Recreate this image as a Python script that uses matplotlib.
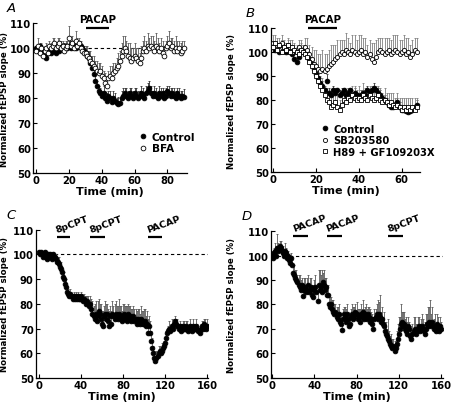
import numpy as np
import matplotlib
matplotlib.use("Agg")
import matplotlib.pyplot as plt

plt.rcParams['font.family'] = ['DejaVu Sans']
plt.rcParams['font.weight'] = 'bold'

# ── Panel A: PACAP with / without BFA ────────────────────────────────────────
t_a = np.arange(0, 91)
a_ctrl = [100, 99, 101, 98, 99, 97, 96, 98, 99, 98,
          100, 99, 98, 100, 99, 100, 101, 100, 101, 100,
          101, 100, 102, 101, 100, 102, 101, 101, 100, 99,
          98, 97, 96, 94, 92, 89.5, 87, 85, 83, 82,
          81, 82, 80, 79, 81, 80, 78.5, 80, 79, 78,
          77.5, 78, 80, 81, 82, 81, 80, 82, 81, 80,
          82, 81, 80, 81, 82, 81, 80, 82, 83, 84,
          82, 81, 82, 81, 80, 82, 81, 82, 80, 81,
          83, 82, 81, 82, 81, 80, 82, 81, 80, 81,
          80.5]
a_ctrl_err = [1, 2, 1, 2, 1, 2, 2, 1, 2, 1,
              1, 2, 1, 1, 2, 1, 1, 2, 1, 1,
              2, 1, 1, 2, 1, 1, 2, 1, 1, 2,
              2, 2, 3, 2, 2, 3, 2, 2, 2, 2,
              2, 3, 2, 3, 2, 3, 2, 3, 3, 2,
              3, 2, 3, 3, 2, 3, 3, 2, 3, 3,
              2, 3, 3, 2, 3, 3, 2, 3, 3, 3,
              3, 2, 3, 3, 2, 3, 3, 2, 3, 3,
              2, 3, 3, 2, 3, 3, 2, 3, 3, 2,
              3]
a_bfa = [99, 101, 98, 100, 97, 99, 100, 98, 101, 100,
         101, 102, 100, 101, 102, 100, 101, 99, 100, 101,
         104, 101, 102, 100, 103, 101, 102, 100, 99, 98,
         98, 97, 96, 95, 94, 93, 92, 91, 90, 91,
         89, 88, 86, 85, 88, 89, 88, 90, 91, 92,
         93, 95, 97, 99, 100, 99, 97, 96, 95, 96,
         97, 96, 95, 94, 96, 99, 100, 99, 101, 100,
         101, 100, 99, 101, 100, 99, 100, 98, 97, 100,
         101, 102, 100, 101, 99, 100, 99, 100, 98, 99,
         100]
a_bfa_err = [2, 3, 2, 2, 3, 2, 2, 3, 2, 2,
             3, 2, 2, 3, 2, 3, 2, 2, 3, 2,
             5, 2, 3, 2, 4, 3, 2, 3, 2, 3,
             3, 4, 3, 4, 3, 4, 3, 4, 4, 3,
             4, 3, 4, 4, 3, 4, 5, 4, 3, 4,
             5, 4, 5, 6, 5, 4, 5, 6, 5, 4,
             5, 4, 5, 4, 5, 4, 5, 4, 5, 4,
             4, 5, 4, 5, 4, 3, 4, 5, 4, 3,
             4, 5, 4, 3, 4, 5, 4, 3, 4, 4,
             3]

# ── Panel B: Control / SB203580 / H89 + GF109203X ────────────────────────────
t_b = np.arange(0, 68)
b_ctrl = [103, 101, 102, 100, 103, 101, 100, 102, 100, 99,
          97, 96, 98, 100, 101, 100, 99, 97, 95, 93,
          91, 89, 87, 86, 84, 88, 83, 82, 84, 83,
          84, 82, 83, 84, 82, 83, 84, 82, 83, 82,
          81, 82, 83, 82, 84, 83, 84, 85, 84, 83,
          82, 81, 80, 79, 78, 77, 77, 78, 79, 77,
          76, 76, 75.5, 75, 75.5, 76, 77, 78]
b_ctrl_err = [1, 2, 1, 1, 2, 1, 1, 2, 1, 1,
              1, 2, 1, 1, 2, 1, 1, 2, 1, 2,
              2, 1, 2, 2, 1, 3, 2, 1, 2, 2,
              1, 2, 2, 1, 2, 2, 1, 2, 2, 1,
              2, 2, 1, 2, 2, 1, 2, 2, 1, 2,
              2, 1, 2, 2, 1, 2, 2, 1, 2, 2,
              1, 2, 2, 1, 2, 2, 1, 2]
b_sb = [104, 102, 103, 101, 104, 102, 101, 103, 102, 100,
        101, 100, 102, 101, 100, 102, 101, 99, 97, 95,
        94, 93, 92, 93, 92, 93, 94, 95, 96, 97,
        98, 99, 100, 99, 101, 100, 99, 101, 100, 99,
        100, 101, 99, 100, 98, 99, 97, 96, 98, 100,
        101, 100, 99, 100, 101, 99, 100, 101, 100, 99,
        100, 101, 99, 100, 98, 99, 101, 100]
b_sb_err = [3, 2, 3, 2, 3, 2, 3, 2, 3, 2,
            3, 2, 3, 4, 3, 4, 5, 4, 5, 6,
            7, 6, 7, 8, 7, 6, 7, 8, 7, 6,
            7, 6, 5, 6, 7, 6, 5, 6, 7, 6,
            7, 6, 7, 6, 5, 6, 7, 8, 7, 6,
            5, 6, 7, 6, 5, 6, 7, 6, 7, 6,
            5, 6, 7, 6, 5, 6, 5, 6]
b_h89 = [102, 104, 101, 103, 100, 102, 101, 103, 100, 102,
         101, 100, 99, 101, 100, 99, 98, 96, 94, 92,
         90, 88, 86, 84, 82, 80, 79, 77, 78, 79,
         77, 76, 78, 80, 79, 81, 80, 82, 81, 80,
         81, 80, 82, 81, 80, 82, 81, 80, 81, 82,
         80, 79, 80, 79, 78, 79, 78, 77, 78, 77,
         76, 77, 76, 77, 76, 77, 76, 77]
b_h89_err = [2, 3, 2, 3, 2, 3, 2, 3, 2, 3,
             2, 3, 2, 3, 2, 3, 3, 4, 3, 4,
             4, 3, 4, 5, 4, 5, 4, 5, 4, 5,
             5, 4, 5, 4, 5, 4, 5, 4, 5, 4,
             5, 4, 5, 4, 5, 4, 5, 4, 5, 4,
             5, 4, 5, 4, 5, 4, 5, 4, 5, 4,
             5, 4, 5, 4, 5, 4, 5, 4]

# ── Panel C: 8pCPT, 8pCPT, PACAP ─────────────────────────────────────────────
t_c = np.arange(0, 161)
c_val = [101, 100, 101, 100, 99, 100, 101, 99, 98, 100,
         99, 100, 98, 100, 99, 99, 98, 97, 97, 96,
         95, 94, 93, 91, 90, 88, 87, 85, 84, 83,
         84, 83, 82, 83, 82, 83, 82, 83, 82, 82,
         83, 82, 81, 82, 81, 80, 81, 80, 79, 80,
         78, 76, 75, 74, 76, 73, 75, 77, 76, 74,
         72, 71, 75, 76, 74, 76, 73, 71, 75, 72,
         76, 75, 74, 76, 75, 74, 76, 75, 74, 73,
         75, 76, 74, 75, 73, 76, 74, 75, 73, 74,
         75, 73, 74, 72, 74, 73, 72, 74, 73, 72,
         72, 73, 71, 72, 68, 71, 68, 65, 62, 60,
         58, 57, 58, 59, 60, 61, 60, 61, 62, 63,
         64, 66, 68, 69, 70, 69, 70, 71, 70, 72,
         73, 72, 71, 70, 71, 69, 70, 71, 70, 70,
         71, 70, 69, 70, 71, 70, 69, 71, 70, 70,
         71, 70, 69, 68, 70, 71, 70, 72, 71, 70,
         71]
c_err = [1, 1, 1, 1, 1, 1, 1, 1, 1, 1,
         1, 1, 1, 1, 1, 1, 2, 2, 2, 3,
         2, 3, 2, 2, 3, 2, 3, 2, 2, 2,
         2, 2, 2, 2, 2, 2, 2, 2, 2, 2,
         2, 2, 2, 2, 2, 3, 2, 3, 2, 3,
         4, 5, 4, 6, 5, 4, 6, 5, 4, 6,
         5, 6, 4, 5, 6, 4, 5, 6, 4, 5,
         5, 4, 6, 5, 4, 5, 6, 4, 5, 4,
         5, 4, 5, 4, 6, 4, 5, 4, 5, 4,
         4, 5, 4, 5, 4, 5, 4, 5, 4, 5,
         6, 5, 4, 5, 6, 4, 5, 4, 4, 3,
         3, 2, 3, 2, 3, 2, 2, 3, 2, 2,
         2, 3, 2, 2, 3, 2, 2, 3, 2, 2,
         2, 2, 3, 2, 2, 3, 2, 2, 3, 2,
         2, 3, 2, 2, 3, 2, 2, 3, 2, 2,
         3, 2, 2, 3, 2, 2, 3, 2, 3, 2,
         3]

# ── Panel D: PACAP, PACAP, 8pCPT ─────────────────────────────────────────────
t_d = np.arange(0, 161)
d_val = [100, 99, 101, 102, 100, 103, 102, 104, 103, 102,
         101, 100, 102, 101, 99, 100, 98, 97, 99, 96,
         93, 92, 91, 90, 89, 88, 87, 86, 88, 83.5,
         86, 87, 85, 86, 88, 85, 86, 87, 84, 83,
         86, 87, 85, 81.5, 88, 86, 87, 85, 89, 88,
         86, 87, 84, 84, 80, 79, 80, 78, 77, 76,
         77, 75, 74, 76, 73, 72, 69.5, 74, 76, 75,
         73, 76, 74, 71, 72, 75, 76, 74, 75, 77,
         76, 74, 75, 73, 76, 75, 77, 74, 76, 75,
         74, 76, 75, 73, 74, 72, 70, 74, 75, 76,
         74, 76, 75, 73, 74, 72, 71, 69, 68, 67,
         66, 65, 64, 63, 62, 63, 61, 62, 64, 66,
         68, 70, 72, 73, 71, 72, 70, 69, 68, 71,
         70, 67, 66, 68, 69, 70, 68, 69, 70, 71,
         69, 70, 71, 70, 69, 68, 70, 72, 71, 73,
         72, 71, 73, 70, 71, 69, 72, 70, 69, 71,
         70]
d_err = [2, 3, 2, 3, 4, 6, 3, 2, 3, 2,
         3, 2, 3, 2, 3, 2, 2, 3, 2, 2,
         3, 4, 3, 4, 3, 4, 5, 4, 3, 4,
         5, 4, 3, 5, 4, 3, 5, 4, 3, 5,
         4, 5, 3, 4, 6, 8, 5, 9, 4, 6,
         5, 4, 3, 4, 3, 4, 3, 4, 5, 4,
         3, 4, 5, 4, 3, 4, 5, 4, 3, 4,
         5, 4, 3, 5, 4, 3, 4, 5, 4, 3,
         5, 4, 3, 5, 4, 3, 5, 4, 3, 5,
         4, 3, 4, 5, 3, 4, 5, 4, 3, 4,
         8, 5, 9, 4, 5, 3, 6, 4, 5, 3,
         8, 4, 3, 5, 4, 3, 4, 3, 5, 6,
         7, 5, 8, 4, 6, 5, 4, 6, 5, 4,
         3, 4, 5, 4, 6, 5, 4, 3, 5, 4,
         3, 4, 5, 4, 3, 5, 6, 4, 8, 6,
         10, 5, 6, 4, 5, 3, 4, 5, 3, 4,
         3]

# drug application bars (start, end, label)
bars_a = [(30, 44.5, "PACAP")]
bars_b = [(16.5, 30, "PACAP")]
bars_c = [(17, 30, "8pCPT"), (49, 63, "8pCPT"), (104, 117, "PACAP")]
bars_d = [(20, 34, "PACAP"), (52, 66, "PACAP"), (110, 124, "8pCPT")]

YLAB = "Normalized fEPSP slope (%)"
ECOL = "0.35"

fig = plt.figure(figsize=(4.53, 4.10), dpi=100)
fig.patch.set_facecolor("white")

ax_a = fig.add_axes([0.073, 0.576, 0.340, 0.365])
ax_b = fig.add_axes([0.598, 0.578, 0.329, 0.351])
ax_c = fig.add_axes([0.079, 0.076, 0.380, 0.361])
ax_d = fig.add_axes([0.598, 0.076, 0.380, 0.358])


def series(ax, t, y, err, marker, filled, ms=3.4, ecolor=ECOL, label=None):
    y = np.asarray(y, float)
    err = np.asarray(err, float)
    ax.errorbar(t, y, yerr=[np.zeros_like(err), err], fmt="none",
                ecolor=ecolor, elinewidth=0.6, capsize=1.0, capthick=0.6,
                zorder=2)
    fc = "black" if filled else "white"
    ln, = ax.plot(t, y, ls="none", marker=marker, ms=ms, mfc=fc, mec="black",
                  mew=0.6, zorder=3, label=label)
    return ln


def style(ax, xlim, xticks, letter, ylab_x):
    ax.set_ylim(50, 110)
    ax.set_xlim(*xlim)
    ax.set_yticks(range(50, 111, 10))
    ax.set_xticks(xticks)
    for s in ["top", "right"]:
        ax.spines[s].set_visible(False)
    for s in ["left", "bottom"]:
        ax.spines[s].set_linewidth(0.9)
    ax.tick_params(direction="in", length=3, width=0.8, labelsize=7.2, pad=1.5)
    ax.set_xlabel("Time (min)", fontsize=8, fontweight="bold", labelpad=1)
    ax.set_ylabel(YLAB, fontsize=6.2, fontweight="bold")
    ax.yaxis.set_label_coords(ylab_x, 0.5)
    ax.text(-0.17, 1.06, letter, transform=ax.transAxes, fontsize=9.5,
            fontstyle="italic", fontweight="normal", ha="left", va="bottom")


def drug_bars(ax, bars, ybar, rot=0):
    for x0, x1, lab in bars:
        ax.plot([x0, x1], [ybar, ybar], color="black", lw=1.6,
                solid_capstyle="butt", clip_on=False, zorder=4)
        if rot:
            ax.text(x0 + 1, ybar + 1.2, lab, rotation=rot, rotation_mode="anchor",
                    ha="left", va="bottom", fontsize=6.8, fontweight="bold",
                    clip_on=False)
        else:
            ax.text((x0 + x1) / 2, ybar + 1.8, lab, ha="center", va="bottom",
                    fontsize=7.3, fontweight="bold", clip_on=False)


# A
ax_a.axhline(100, color="black", lw=0.8, ls=(0, (3, 2.5)), zorder=1)
h1 = series(ax_a, t_a, a_ctrl, a_ctrl_err, "o", True, ecolor="0.2", label="Control")
h2 = series(ax_a, t_a, a_bfa, a_bfa_err, "o", False, label="BFA")
style(ax_a, (-2, 92), [0, 20, 40, 60, 80], "A", -0.158)
drug_bars(ax_a, bars_a, 108)
ax_a.legend(handles=[h1, h2], loc="upper left", bbox_to_anchor=(0.66, 0.31),
            frameon=False, handlelength=0.6, handletextpad=0.5,
            labelspacing=0.15, borderpad=0, prop={"size": 7.6, "weight": "bold"})

# B
h1 = series(ax_b, t_b, b_ctrl, b_ctrl_err, "o", True, ecolor="0.2", label="Control")
h2 = series(ax_b, t_b, b_sb, b_sb_err, "o", False, ms=3.0, ecolor="0.5", label="SB203580")
h3 = series(ax_b, t_b, b_h89, b_h89_err, "s", False, ms=2.8, ecolor="0.5",
            label="H89 + GF109203X")
style(ax_b, (-1, 68.5), [0, 20, 40, 60], "B", -0.235)
drug_bars(ax_b, bars_b, 110)
ax_b.legend(handles=[h1, h2, h3], loc="upper left", bbox_to_anchor=(0.31, 0.37),
            frameon=False, handlelength=0.6, handletextpad=0.5,
            labelspacing=0.15, borderpad=0, prop={"size": 7.2, "weight": "bold"})

# C
ax_c.axhline(100, color="black", lw=0.8, ls=(0, (3, 2.5)), zorder=1)
series(ax_c, t_c, c_val, c_err, "o", True)
style(ax_c, (-3, 161), [0, 40, 80, 120, 160], "C", -0.155)
drug_bars(ax_c, bars_c, 107, rot=20)

# D
ax_d.axhline(100, color="black", lw=0.8, ls=(0, (3, 2.5)), zorder=1)
series(ax_d, t_d, d_val, d_err, "o", True)
style(ax_d, (-1.2, 162), [0, 40, 80, 120, 160], "D", -0.2)
drug_bars(ax_d, bars_d, 108, rot=20)

fig.savefig("out.png", dpi=100, facecolor="white")
